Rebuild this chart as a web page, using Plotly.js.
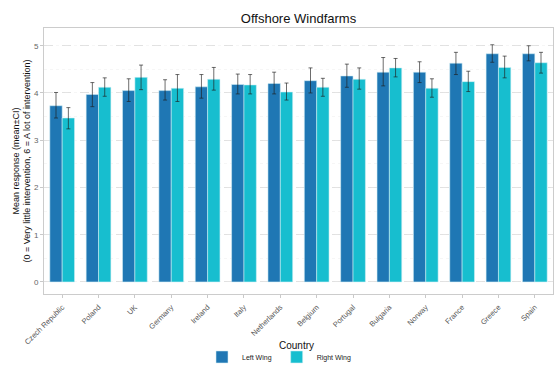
<!DOCTYPE html>
<html>
<head>
<meta charset="utf-8">
<script src="https://cdn.plot.ly/plotly-3.0.1.min.js"></script>
<style>html,body{margin:0;padding:0;background:#fff;}#chart{width:559px;height:365px;}</style>
</head>
<body>
<div id="chart"></div>
<script>
const countries = ["Czech Republic","Poland","UK","Germany","Ireland","Italy","Netherlands","Belgium","Portugal","Bulgaria","Norway","France","Greece","Spain"];
const leftMean  = [3.73,3.97,4.05,4.05,4.13,4.18,4.20,4.26,4.36,4.44,4.44,4.63,4.83,4.83];
const leftLow   = [3.47,3.71,3.82,3.85,3.89,3.98,3.98,4.00,4.12,4.15,4.22,4.39,4.65,4.68];
const leftHigh  = [4.01,4.22,4.30,4.28,4.39,4.40,4.44,4.53,4.61,4.75,4.66,4.86,5.02,5.00];
const rightMean = [3.47,4.12,4.33,4.10,4.29,4.17,4.02,4.12,4.29,4.53,4.10,4.24,4.54,4.64];
const rightLow  = [3.24,3.93,4.07,3.82,4.06,3.98,3.85,3.93,4.08,4.34,3.91,4.03,4.32,4.42];
const rightHigh = [3.69,4.32,4.59,4.39,4.54,4.39,4.21,4.31,4.53,4.73,4.30,4.46,4.78,4.86];

function mkTrace(name, mean, low, high, color) {
  return {
    type: 'bar', name: name, x: countries, y: mean,
    marker: {color: color, line: {color: 'rgba(210,238,245,0.7)', width: 0.8}},
    error_y: {
      type: 'data', symmetric: false,
      array: high.map((h, i) => h - mean[i]),
      arrayminus: mean.map((m, i) => m - low[i]),
      color: 'rgba(30,30,30,0.65)', thickness: 1, width: 2
    }
  };
}

const data = [
  mkTrace('Left Wing', leftMean, leftLow, leftHigh, '#1f77b4'),
  mkTrace('Right Wing', rightMean, rightLow, rightHigh, '#17becf')
];

const layout = {
  width: 559, height: 365,
  margin: {l: 44, r: 6, t: 28, b: 71},
  paper_bgcolor: '#fff', plot_bgcolor: '#fff',
  font: {family: 'Liberation Sans, Arial, sans-serif', color: '#333'},
  title: {text: 'Offshore Windfarms', font: {size: 13, color: '#111'}, x: 0.534, xanchor: 'center', y: 0.95, yanchor: 'middle'},
  barmode: 'group', bargap: 0.32, bargroupgap: 0,
  showlegend: true,
  legend: {orientation: 'h', xref: 'container', x: 0.5, xanchor: 'center', yref: 'container', y: 0.022, yanchor: 'middle',
           font: {size: 7, color: '#222'}, traceorder: 'normal', itemwidth: 30},
  annotations: [{text: 'Country', xref: 'paper', yref: 'paper', x: 0.497, y: -0.192, xanchor: 'center', yanchor: 'middle',
                 showarrow: false, font: {size: 10, color: '#111'}}],
  xaxis: {
    tickangle: -45, tickfont: {size: 7.5, color: '#555'}, ticklabelstandoff: 2,
    ticks: 'outside', ticklen: 3, tickcolor: '#bbb', tickwidth: 0.8,
    showgrid: false, showline: true, linecolor: '#ccc', linewidth: 1, mirror: true,
    zeroline: false
  },
  yaxis: {
    title: {text: 'Mean response (mean±CI)<br>(0 = Very little intervention, 6 = A lot of intervention)', font: {size: 9, color: '#111'}, standoff: 1},
    range: [-0.255, 5.375], tickvals: [0,1,2,3,4,5], tickfont: {size: 8, color: '#666'},
    ticks: 'outside', ticklen: 3, tickcolor: '#bbb', tickwidth: 0.8,
    showgrid: true, gridcolor: '#dcdcdc', griddash: 'dash', gridwidth: 0.8,
    minor: {dtick: 0.5, tick0: 0, showgrid: true, gridcolor: '#f0f0f0', griddash: 'dot', gridwidth: 0.6, ticks: ''},
    showline: true, linecolor: '#ccc', linewidth: 1, mirror: true, zeroline: false
  }
};

Plotly.newPlot('chart', data, layout, {displayModeBar: false, staticPlot: true});
</script>
</body>
</html>
